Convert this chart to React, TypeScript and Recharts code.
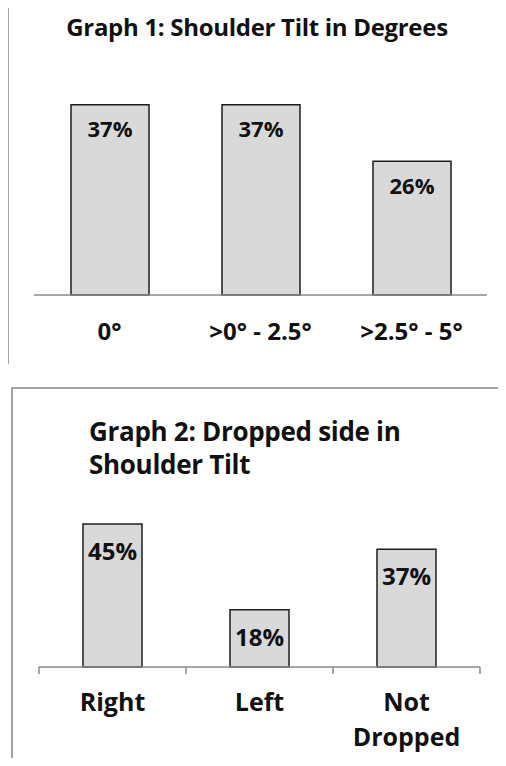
import React from "react";
import { BarChart, Bar, XAxis, YAxis, LabelList } from "recharts";

// Graph 1: shoulder tilt in degrees
const tiltCategories = ["0°", ">0° - 2.5°", ">2.5° - 5°"];
const tiltValues = [37, 37, 26];

// Graph 2: dropped side
const sideCategories = ["Right", "Left", "Not Dropped"];
const sideValues = [45, 18, 37];

const FONT = "'Open Sans', 'DejaVu Sans', sans-serif";
const BAR_FILL = "#d9d9d9";
const BAR_STROKE = "#1e1e1e";
const AXIS_COLOR = "#8a8a8a";
const BORDER = "2px solid #a3a3a3";

const tiltData = tiltCategories.map((name, i) => ({ name, value: tiltValues[i] }));
const sideData = sideCategories.map((name, i) => ({ name, value: sideValues[i] }));

const pct = (v: any) => `${v}%`;

function TiltTick(props: any) {
  const { x, y, payload } = props;
  return (
    <text
      x={x}
      y={y + 35}
      textAnchor="middle"
      dominantBaseline="central"
      fontFamily={FONT}
      fontWeight={700}
      fontSize={24}
      fill="#111"
    >
      {payload.value}
    </text>
  );
}

// band width of graph 2 (plot width / categories), used for the boundary tick marks
const SIDE_LEFT = 39;
const SIDE_RIGHT = 26;
const SIDE_W = 506;
const sideBand = (SIDE_W - SIDE_LEFT - SIDE_RIGHT) / sideCategories.length;

function SideTick(props: any) {
  const { x, y, payload, index } = props;
  const label: string = payload.value;
  const lines = label.length > 6 ? label.split(" ") : [label];
  const last = index === sideCategories.length - 1;
  return (
    <g>
      <line x1={x - sideBand / 2} y1={y} x2={x - sideBand / 2} y2={y + 7} stroke={AXIS_COLOR} strokeWidth={1.5} />
      {last && (
        <line x1={x + sideBand / 2} y1={y} x2={x + sideBand / 2} y2={y + 7} stroke={AXIS_COLOR} strokeWidth={1.5} />
      )}
      <text
        x={x}
        y={y + 34}
        textAnchor="middle"
        dominantBaseline="central"
        fontFamily={FONT}
        fontWeight={700}
        fontSize={25}
        fill="#111"
      >
        {lines.map((l, i) => (
          <tspan key={l} x={x} dy={i === 0 ? 0 : 35}>
            {l}
          </tspan>
        ))}
      </text>
    </g>
  );
}

export default function App() {
  return (
    <div
      style={{
        position: "relative",
        width: 506,
        height: 766,
        margin: -8,
        overflow: "hidden",
        background: "#fff",
        fontFamily: FONT,
      }}
    >
      {/* frame of graph 1 */}
      <div
        style={{
          position: "absolute",
          left: 7,
          top: 4,
          width: 520,
          height: 358,
          borderLeft: BORDER,
          borderTop: BORDER,
        }}
      />
      <div
        style={{
          position: "absolute",
          left: 0,
          width: 506,
          top: 11,
          textAlign: "center",
          fontWeight: 700,
          fontSize: 24,
          lineHeight: "32px",
          color: "#111",
          letterSpacing: -0.3,
          paddingLeft: 4,
        }}
      >
        Graph 1: Shoulder Tilt in Degrees
      </div>
      <div style={{ position: "absolute", left: 0, top: 0 }}>
        <BarChart
          width={506}
          height={360}
          data={tiltData}
          margin={{ top: 38, right: 19, left: 34, bottom: 25 }}
        >
          <YAxis hide domain={[0, 50]} />
          <XAxis
            dataKey="name"
            height={40}
            tickLine={false}
            tickSize={0}
            tickMargin={0}
            axisLine={{ stroke: AXIS_COLOR, strokeWidth: 1.5 }}
            tick={<TiltTick />}
            interval={0}
          />
          <Bar
            dataKey="value"
            barSize={78}
            fill={BAR_FILL}
            stroke={BAR_STROKE}
            strokeWidth={1.5}
            isAnimationActive={false}
          >
            <LabelList
              dataKey="value"
              position="insideTop"
              offset={17}
              formatter={pct}
              fill="#111"
              fontFamily={FONT}
              fontWeight={700}
              fontSize={22}
            />
          </Bar>
        </BarChart>
      </div>

      {/* frame of graph 2 */}
      <div
        style={{
          position: "absolute",
          left: 11,
          top: 387,
          width: 520,
          height: 400,
          borderLeft: BORDER,
          borderTop: BORDER,
        }}
      />
      <div
        style={{
          position: "absolute",
          left: 89,
          top: 415,
          fontWeight: 700,
          fontSize: 26,
          lineHeight: "33px",
          color: "#111",
          letterSpacing: -0.3,
        }}
      >
        Graph 2: Dropped side in
        <br />
        Shoulder Tilt
      </div>
      <div style={{ position: "absolute", left: 0, top: 380 }}>
        <BarChart
          width={SIDE_W}
          height={386}
          data={sideData}
          margin={{ top: 128, right: SIDE_RIGHT, left: SIDE_LEFT, bottom: 39 }}
        >
          <YAxis hide domain={[0, 50]} />
          <XAxis
            dataKey="name"
            height={60}
            tickLine={false}
            tickSize={0}
            tickMargin={0}
            axisLine={{ stroke: AXIS_COLOR, strokeWidth: 1.5 }}
            tick={<SideTick />}
            interval={0}
          />
          <Bar
            dataKey="value"
            barSize={59}
            fill={BAR_FILL}
            stroke={BAR_STROKE}
            strokeWidth={1.5}
            isAnimationActive={false}
          >
            <LabelList
              dataKey="value"
              position="insideTop"
              offset={19}
              formatter={pct}
              fill="#111"
              fontFamily={FONT}
              fontWeight={700}
              fontSize={24}
            />
          </Bar>
        </BarChart>
      </div>
    </div>
  );
}
